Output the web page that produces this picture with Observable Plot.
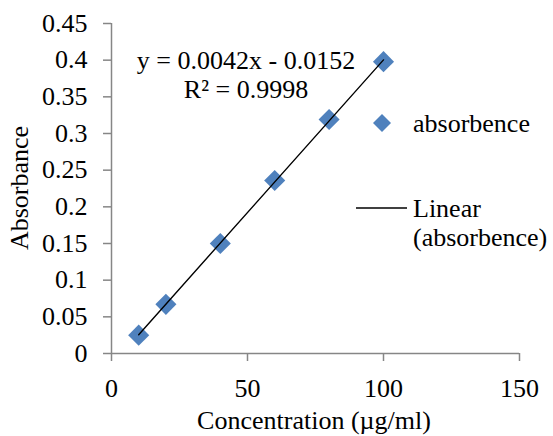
<!DOCTYPE html>
<html>
<head>
<meta charset="utf-8">
<script src="https://cdn.jsdelivr.net/npm/d3@7"></script>
<script src="https://cdn.jsdelivr.net/npm/@observablehq/plot@0.6"></script>
<style>
  html, body { margin: 0; padding: 0; background: white; }
  #chart svg { display: block; }
</style>
</head>
<body>
<div id="chart"></div>
<script>
const concentrations = [10, 20, 40, 60, 80, 100];
const absorbance = [0.025, 0.067, 0.150, 0.236, 0.319, 0.398];
const xTicks = [0, 50, 100, 150];
const yTicks = [0, 0.05, 0.1, 0.15, 0.2, 0.25, 0.3, 0.35, 0.4, 0.45];
const seriesName = "absorbence";
const trendLegend = ["Linear", "(absorbence)"];
const equationText = "y = 0.0042x - 0.0152";
const r2Text = "R² = 0.9998";
const xLabel = "Concentration (µg/ml)";
const yLabel = "Absorbance";

const data = concentrations.map((x, i) => ({x, y: absorbance[i]}));

const W = 553, H = 436;
const font = "'Liberation Serif', 'Times New Roman', serif";
const axisGrey = "#868686";
const blue = "#4F81BD";

const chart = Plot.plot({
  width: W,
  height: H,
  marginLeft: 111,
  marginRight: 34,
  marginTop: 23,
  marginBottom: 83,
  style: {fontFamily: font, fontSize: "26px", background: "white", color: "black"},
  x: {domain: [0, 150]},
  y: {domain: [0, 0.45]},
  marks: [
    Plot.axisX({ticks: xTicks, tickSize: 8, tickPadding: 17, stroke: axisGrey, strokeWidth: 1.5, fill: "black", label: null, tickFormat: d => String(d)}),
    Plot.axisY({ticks: yTicks, tickSize: 8, tickPadding: 16, stroke: axisGrey, strokeWidth: 1.5, fill: "black", label: null, tickFormat: d => String(d)}),
    Plot.ruleX([0], {stroke: axisGrey, strokeWidth: 1.5}),
    Plot.ruleY([0], {stroke: axisGrey, strokeWidth: 1.5}),
    Plot.dot(data, {x: "x", y: "y", symbol: "diamond2", r: 9.5, fill: blue, stroke: "none"}),
    Plot.linearRegressionY(data, {x: "x", y: "y", ci: 0, stroke: "black", strokeWidth: 1.4})
  ]
});

document.getElementById("chart").appendChild(chart);

const svg = d3.select(chart);
const g = svg.append("g")
  .attr("font-family", font)
  .attr("font-size", 26)
  .attr("fill", "black")
  .attr("text-anchor", "start");

// axis titles
g.append("text")
  .attr("x", 314).attr("y", 429)
  .attr("text-anchor", "middle")
  .text(xLabel);
g.append("text")
  .attr("transform", "translate(28,188) rotate(-90)")
  .attr("text-anchor", "middle")
  .text(yLabel);

// trendline equation
g.append("text")
  .attr("x", 246).attr("y", 69)
  .attr("text-anchor", "middle")
  .text(equationText);
g.append("text")
  .attr("x", 246).attr("y", 98)
  .attr("text-anchor", "middle")
  .text(r2Text);

// legend
g.append("path")
  .attr("d", d3.symbol(d3.symbolDiamond2, 206)())
  .attr("transform", "translate(382,123)")
  .attr("fill", blue);
g.append("text")
  .attr("x", 413).attr("y", 132)
  .attr("text-anchor", "start")
  .text(seriesName);
g.append("line")
  .attr("x1", 356).attr("x2", 407)
  .attr("y1", 208).attr("y2", 208)
  .attr("stroke", "black").attr("stroke-width", 1.4);
g.append("text")
  .attr("x", 413).attr("y", 217)
  .attr("text-anchor", "start")
  .text(trendLegend[0]);
g.append("text")
  .attr("x", 413).attr("y", 246)
  .attr("text-anchor", "start")
  .text(trendLegend[1]);
</script>
</body>
</html>
